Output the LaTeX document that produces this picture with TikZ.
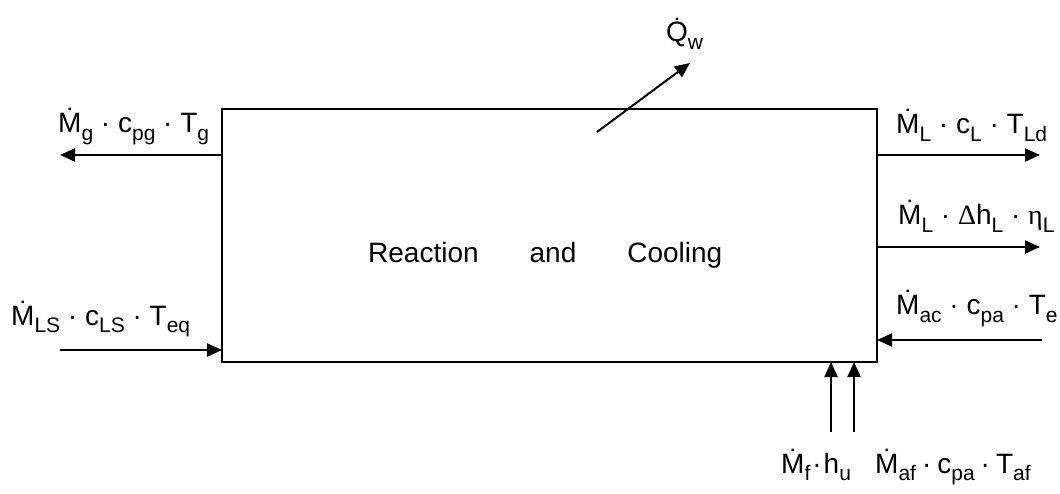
\documentclass[tikz,border=0pt]{standalone}
\usepackage{fontspec}
\setmainfont{Liberation Sans}
\newfontfamily\grk{Liberation Serif}
\usetikzlibrary{arrows.meta}
\newcommand\low[1]{\raisebox{-7.5pt}{\fontsize{21}{21}\selectfont #1}}

\begin{document}
\begin{tikzpicture}[x=1pt, y=-1pt,
    flow/.style={line width=2pt, -{Triangle[length=15pt,width=13pt]}},
    lab/.style={anchor=base west, inner sep=0pt, font=\fontsize{28}{32}\selectfont}]
  \useasboundingbox (0,0) rectangle (1060,494);
  \node[draw, line width=2pt, minimum width=655pt, minimum height=253pt, inner sep=0pt, outer sep=0pt] (box) at (549.5,235.5) {};
  \node[lab] (title) at (368,263) {Reaction\hspace{51pt}and\hspace{51pt}Cooling};

  % free ends of the flows
  \coordinate (gout) at (60,155);
  \coordinate (lsin) at (60,350);
  \coordinate (ldout) at (1040,155);
  \coordinate (lhout) at (1040,247);
  \coordinate (acin) at (1042,340);
  \coordinate (fin) at (831,432);
  \coordinate (afin) at (854,432);
  \coordinate (qa) at (597,132);
  \coordinate (qb) at (690,63);

  \draw[flow] (box.west |- gout) -- (gout);
  \draw[flow] (lsin) -- (box.west |- lsin);
  \draw[flow] (box.east |- ldout) -- (ldout);
  \draw[flow] (box.east |- lhout) -- (lhout);
  \draw[flow] (acin) -- (box.east |- acin);
  \draw[flow] (fin) -- (fin |- box.south);
  \draw[flow] (afin) -- (afin |- box.south);
  \draw[flow] (qa) -- (qb);

  \node[lab] (gtext) at (58,133) {Ṁ\low{g} · c\low{pg} · T\low{g}};
  \node[lab] (lstext) at (11,325) {Ṁ\low{LS} · c\low{LS} · T\low{eq}};
  \node[lab] (ldtext) at (896,134) {Ṁ\low{L} · c\low{L} · T\low{Ld}};
  \node[lab] (lhtext) at (898,225) {Ṁ\low{L} · {\grk Δ}h\low{L} · {\grk η}\low{L}};
  \node[lab] (actext) at (896,315) {Ṁ\low{ac} · c\low{pa} · T\low{e}};
  \node[lab] (ftext) at (781,473) {Ṁ\low{f}\hspace{2pt}·\hspace{2pt}h\low{u}};
  \node[lab] (aftext) at (875,473) {Ṁ\low{af}\hspace{6pt}·\hspace{6pt}c\low{pa}\hspace{6pt}·\hspace{6pt}T\low{af}};
  \node[lab] (qtext) at (666,42) {Q̇\low{w}};
\end{tikzpicture}
\end{document}
